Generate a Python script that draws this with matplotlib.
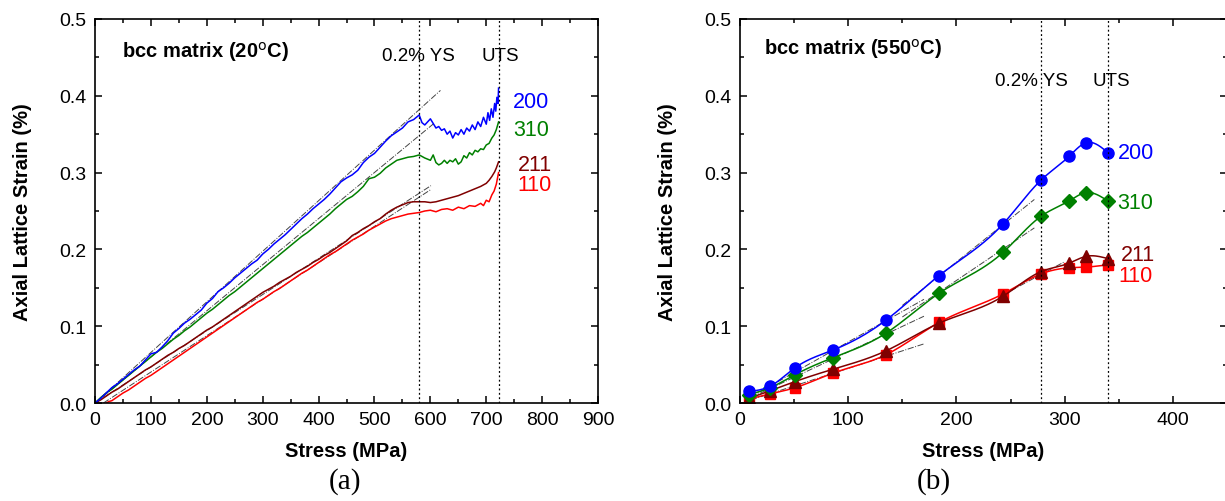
import numpy as np
import matplotlib
matplotlib.use("Agg")
import matplotlib.pyplot as plt
from matplotlib.ticker import MultipleLocator, FormatStrFormatter

plt.rcParams['font.family'] = ['Liberation Sans', 'DejaVu Sans']

# ---- (a) 20 C, continuous measurement ----
x200_a = [0, 10, 20, 30, 40, 50, 60, 70, 80, 90, 100, 110, 120, 130, 140, 150, 160, 170, 180, 190,
          200, 210, 220, 230, 240, 250, 260, 270, 280, 290, 300, 310, 320, 330, 340, 350, 360, 370,
          380, 390, 400, 410, 420, 430, 440, 450, 460, 470, 480, 490, 500, 510, 520, 530, 540, 550,
          560, 570, 575, 580, 585, 590, 595, 600, 605, 610, 615, 620, 625, 630, 635, 640, 645, 650,
          655, 660, 665, 670, 675, 680, 685, 690, 695, 700, 703, 706, 709, 712, 715, 717, 719, 721, 722]
y200_a = [0.000, 0.006, 0.013, 0.020, 0.025, 0.031, 0.037, 0.043, 0.048, 0.056, 0.064, 0.066, 0.073,
          0.081, 0.091, 0.097, 0.104, 0.109, 0.115, 0.121, 0.130, 0.136, 0.145, 0.150, 0.156, 0.163,
          0.169, 0.175, 0.181, 0.186, 0.194, 0.200, 0.207, 0.213, 0.219, 0.226, 0.233, 0.240, 0.246,
          0.253, 0.259, 0.265, 0.272, 0.280, 0.288, 0.293, 0.297, 0.303, 0.313, 0.320, 0.325, 0.333,
          0.341, 0.348, 0.353, 0.358, 0.366, 0.369, 0.372, 0.375, 0.365, 0.362, 0.366, 0.370, 0.364,
          0.358, 0.360, 0.355, 0.357, 0.350, 0.354, 0.345, 0.352, 0.349, 0.356, 0.350, 0.358, 0.354,
          0.362, 0.356, 0.366, 0.360, 0.372, 0.363, 0.378, 0.368, 0.383, 0.372, 0.390, 0.380, 0.398,
          0.390, 0.410]

x310_a = [0, 10, 20, 30, 40, 50, 60, 70, 80, 90, 100, 110, 120, 130, 140, 150, 160, 170, 180, 190,
          200, 210, 220, 230, 240, 250, 260, 270, 280, 290, 300, 310, 320, 330, 340, 350, 360, 370,
          380, 390, 400, 410, 420, 430, 440, 450, 460, 470, 480, 490, 500, 510, 520, 530, 540, 550,
          560, 570, 580, 590, 600, 605, 610, 615, 620, 625, 630, 635, 640, 645, 650, 655, 660, 665,
          670, 675, 680, 685, 690, 695, 700, 705, 710, 714, 718, 722]
y310_a = [0.000, 0.007, 0.013, 0.018, 0.024, 0.030, 0.036, 0.042, 0.048, 0.054, 0.060, 0.066, 0.071,
          0.077, 0.083, 0.088, 0.094, 0.099, 0.105, 0.111, 0.117, 0.122, 0.128, 0.134, 0.140, 0.145,
          0.151, 0.157, 0.163, 0.169, 0.175, 0.181, 0.187, 0.193, 0.199, 0.205, 0.211, 0.217, 0.222,
          0.228, 0.234, 0.240, 0.246, 0.253, 0.259, 0.265, 0.269, 0.275, 0.282, 0.292, 0.294, 0.299,
          0.306, 0.311, 0.316, 0.318, 0.320, 0.321, 0.323, 0.319, 0.316, 0.323, 0.313, 0.310, 0.312,
          0.316, 0.312, 0.316, 0.314, 0.318, 0.311, 0.314, 0.322, 0.319, 0.326, 0.323, 0.329, 0.327,
          0.331, 0.330, 0.336, 0.338, 0.345, 0.349, 0.356, 0.366]

x211_a = [0, 10, 20, 30, 40, 50, 60, 70, 80, 90, 100, 110, 120, 130, 140, 150, 160, 170, 180, 190,
          200, 210, 220, 230, 240, 250, 260, 270, 280, 290, 300, 310, 320, 330, 340, 350, 360, 370,
          380, 390, 400, 410, 420, 430, 440, 450, 460, 470, 480, 490, 500, 510, 520, 530, 540, 550,
          560, 570, 580, 590, 600, 610, 620, 630, 640, 650, 660, 670, 680, 690, 700, 705, 710, 715,
          718, 722]
y211_a = [0.000, 0.004, 0.009, 0.014, 0.018, 0.023, 0.028, 0.033, 0.038, 0.043, 0.047, 0.052, 0.057,
          0.062, 0.066, 0.071, 0.075, 0.080, 0.085, 0.090, 0.095, 0.099, 0.104, 0.109, 0.114, 0.119,
          0.124, 0.129, 0.134, 0.139, 0.144, 0.148, 0.152, 0.157, 0.161, 0.165, 0.170, 0.174, 0.178,
          0.183, 0.187, 0.192, 0.196, 0.201, 0.206, 0.211, 0.218, 0.222, 0.227, 0.231, 0.236, 0.240,
          0.246, 0.251, 0.255, 0.258, 0.261, 0.262, 0.262, 0.262, 0.261, 0.262, 0.264, 0.266, 0.268,
          0.270, 0.273, 0.276, 0.279, 0.282, 0.286, 0.290, 0.295, 0.301, 0.306, 0.314]

x110_a = [20, 25, 30, 40, 50, 60, 70, 80, 90, 100, 110, 120, 130, 140, 150, 160, 170, 180, 190, 200,
          210, 220, 230, 240, 250, 260, 270, 280, 290, 300, 310, 320, 330, 340, 350, 360, 370, 380,
          390, 400, 410, 420, 430, 440, 450, 460, 470, 480, 490, 500, 510, 520, 530, 540, 550, 560,
          570, 580, 590, 600, 610, 620, 630, 640, 650, 660, 670, 680, 690, 695, 700, 705, 710, 714,
          718, 722]
y110_a = [0.000, 0.002, 0.003, 0.008, 0.013, 0.017, 0.022, 0.027, 0.032, 0.036, 0.041, 0.046, 0.051,
          0.056, 0.061, 0.066, 0.071, 0.076, 0.081, 0.086, 0.091, 0.096, 0.101, 0.106, 0.111, 0.116,
          0.121, 0.126, 0.131, 0.135, 0.140, 0.145, 0.149, 0.154, 0.159, 0.164, 0.169, 0.173, 0.178,
          0.183, 0.188, 0.193, 0.197, 0.202, 0.207, 0.212, 0.216, 0.220, 0.225, 0.229, 0.233, 0.237,
          0.240, 0.242, 0.244, 0.246, 0.247, 0.248, 0.250, 0.251, 0.249, 0.252, 0.253, 0.251, 0.255,
          0.253, 0.257, 0.256, 0.260, 0.257, 0.264, 0.262, 0.271, 0.276, 0.285, 0.300]

# elastic fit lines (a): (x0, y0, x1, y1)
fits_a = [(0, 0.0, 618, 0.407), (0, 0.0, 608, 0.365), (0, 0.0, 601, 0.283), (15, 0.0, 601, 0.278)]

# ---- (b) 550 C, discrete measurements ----
stress_b = [8, 28, 51, 86, 135, 184, 243, 278, 304, 320, 340]
y200_b = [0.015, 0.022, 0.046, 0.069, 0.108, 0.166, 0.233, 0.290, 0.321, 0.339, 0.326]
y310_b = [0.011, 0.020, 0.037, 0.059, 0.091, 0.143, 0.196, 0.243, 0.263, 0.274, 0.263]
y211_b = [0.006, 0.016, 0.028, 0.044, 0.068, 0.104, 0.139, 0.171, 0.182, 0.191, 0.188]
y110_b = [0.005, 0.012, 0.020, 0.039, 0.063, 0.105, 0.142, 0.168, 0.176, 0.177, 0.180]

fits_b = [(10, 0.008, 170, 0.135), (10, 0.007, 170, 0.113), (10, 0.004, 170, 0.077),
          (150, 0.127, 272, 0.265), (150, 0.112, 272, 0.228), (250, 0.146, 300, 0.184)]

colors = {'200': '#0000ff', '310': '#008000', '211': '#800000', '110': '#ff0000'}


def smooth(x, y, n=300):
    # natural cubic spline for the connecting curve
    x = np.asarray(x, float)
    y = np.asarray(y, float)
    m = len(x)
    h = np.diff(x)
    A = np.zeros((m, m))
    r = np.zeros(m)
    A[0, 0] = A[-1, -1] = 1
    for i in range(1, m - 1):
        A[i, i - 1] = h[i - 1]
        A[i, i] = 2 * (h[i - 1] + h[i])
        A[i, i + 1] = h[i]
        r[i] = 3 * ((y[i + 1] - y[i]) / h[i] - (y[i] - y[i - 1]) / h[i - 1])
    c = np.linalg.solve(A, r)
    xs = np.linspace(x[0], x[-1], n)
    k = np.clip(np.searchsorted(x, xs) - 1, 0, m - 2)
    dx = xs - x[k]
    b = (y[1:] - y[:-1]) / h - h * (2 * c[:-1] + c[1:]) / 3
    d = (c[1:] - c[:-1]) / (3 * h)
    ys = y[k] + b[k] * dx + c[k] * dx ** 2 + d[k] * dx ** 3
    return xs, ys


def style_axes(ax, xmax, xmaj):
    ax.set_xlim(0, xmax)
    ax.set_ylim(0, 0.5)
    ax.xaxis.set_major_locator(MultipleLocator(xmaj))
    ax.xaxis.set_minor_locator(MultipleLocator(xmaj / 2))
    ax.yaxis.set_major_locator(MultipleLocator(0.1))
    ax.yaxis.set_minor_locator(MultipleLocator(0.05))
    ax.yaxis.set_major_formatter(FormatStrFormatter('%.1f'))
    ax.tick_params(which='both', direction='in', top=True, right=True, labelsize=14, width=1.1)
    ax.tick_params(which='major', length=5, pad=6)
    ax.tick_params(which='minor', length=3)
    for s in ax.spines.values():
        s.set_linewidth(1.2)
    ax.set_xlabel('Stress (MPa)', fontsize=14.5, fontweight='bold', labelpad=9)
    ax.set_ylabel('Axial Lattice Strain (%)', fontsize=14.5, fontweight='bold', labelpad=20)


fig = plt.figure(figsize=(12.25, 5.02), dpi=100)
ax1 = fig.add_axes([0.0776, 0.1952, 0.4106, 0.765])
ax2 = fig.add_axes([0.6041, 0.1952, 0.3975, 0.765])

# panel (a)
for x0, y0, x1, y1 in fits_a:
    ax1.plot([x0, x1], [y0, y1], color='#444444', lw=0.7, ls='-.')
ax1.plot(x110_a, y110_a, color=colors['110'], lw=1.1)
ax1.plot(x211_a, y211_a, color=colors['211'], lw=1.1)
ax1.plot(x310_a, y310_a, color=colors['310'], lw=1.1)
ax1.plot(x200_a, y200_a, color=colors['200'], lw=1.1)
for xv in (580, 722):
    ax1.axvline(xv, color='black', lw=0.9, ls=(0, (1.5, 2)))
style_axes(ax1, 900, 100)
ax1.text(48, 0.458, r'bcc matrix (20$^{\rm o}$C)', fontsize=14.5, fontweight='bold', va='center')
ax1.text(578, 0.452, '0.2% YS', fontsize=13.5, ha='center', va='center')
ax1.text(726, 0.452, 'UTS', fontsize=13.5, ha='center', va='center')
ax1.text(748, 0.393, '200', color=colors['200'], fontsize=15.5, va='center')
ax1.text(748, 0.356, '310', color=colors['310'], fontsize=15.5, va='center')
ax1.text(757, 0.311, '211', color=colors['211'], fontsize=15.5, va='center')
ax1.text(755, 0.284, '110', color=colors['110'], fontsize=15.5, va='center')

# panel (b)
for x0, y0, x1, y1 in fits_b:
    ax2.plot([x0, x1], [y0, y1], color='#444444', lw=0.7, ls='-.')
for key, ys, mk, ms in [('110', y110_b, 's', 7), ('211', y211_b, '^', 9),
                        ('310', y310_b, 'D', 7), ('200', y200_b, 'o', 8)]:
    sx, sy = smooth(stress_b, ys)
    ax2.plot(sx, sy, color=colors[key], lw=1.1)
    ax2.plot(stress_b, ys, ls='none', marker=mk, ms=ms, color=colors[key])
for xv in (278, 340):
    ax2.axvline(xv, color='black', lw=0.9, ls=(0, (1.5, 2)))
style_axes(ax2, 450, 100)
ax2.text(22, 0.462, r'bcc matrix (550$^{\rm o}$C)', fontsize=14.5, fontweight='bold', va='center')
ax2.text(269, 0.42, '0.2% YS', fontsize=13.5, ha='center', va='center')
ax2.text(343, 0.42, 'UTS', fontsize=13.5, ha='center', va='center')
ax2.text(349, 0.326, '200', color=colors['200'], fontsize=15.5, va='center')
ax2.text(349, 0.261, '310', color=colors['310'], fontsize=15.5, va='center')
ax2.text(352, 0.194, '211', color=colors['211'], fontsize=15.5, va='center')
ax2.text(350, 0.166, '110', color=colors['110'], fontsize=15.5, va='center')

fig.text(0.282, 0.04, '(a)', fontsize=21, family='Liberation Serif', ha='center', va='center')
fig.text(0.762, 0.04, '(b)', fontsize=21, family='Liberation Serif', ha='center', va='center')

fig.savefig('out.png', dpi=100)
